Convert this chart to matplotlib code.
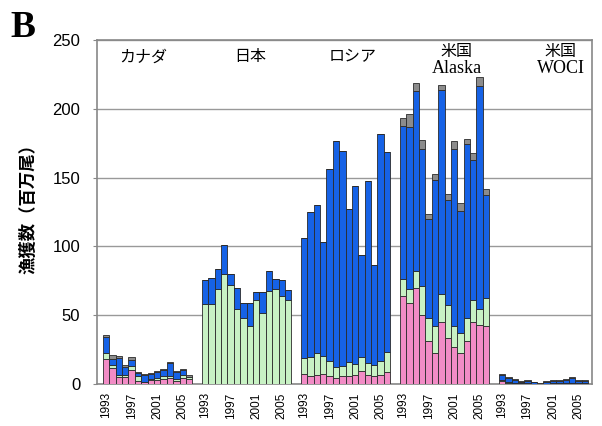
import numpy as np
import matplotlib
matplotlib.use("Agg")
from matplotlib import pyplot as plt

plt.rcParams['font.family'] = ['Noto Sans CJK JP', 'DejaVu Sans']

# catch by region, 1993-2006, millions of fish
regions = ['カナダ', '日本', 'ロシア', '米国\nAlaska', '米国\nWOCI']
years = list(range(1993, 2007))
tick_years = [1993, 1997, 2001, 2005]

# bottom to top: pink, light green, blue, gray
pink_vals = [
    [18, 11.5, 5, 5, 10.4, 2.4, 1.2, 3, 3, 3.6, 4, 2, 4.3, 3.9],
    [0] * 14,
    [7.5, 5.6, 6.8, 7.5, 6, 4.3, 5.6, 6, 6.8, 9.2, 6.8, 6, 6.8, 8.5],
    [64, 58.7, 69.6, 50.2, 30.9, 22.5, 44.7, 33.3, 26.8, 22.5, 30.9, 44.7, 43, 41.8],
    [2.5, 1, 0.5, 0.3, 0.3, 0.2, 0.1, 0.2, 0.3, 0.3, 0.3, 0.5, 0.3, 0.3],
]
green_vals = [
    [4.5, 2.5, 1.7, 1.7, 2.5, 3.6, 0.5, 0.5, 1.2, 1.9, 1.5, 1.7, 2.4, 1.2],
    [58, 58, 69.3, 80.2, 71.7, 54.3, 47.6, 42, 60.9, 51.7, 67.6, 69.3, 63.8, 60.9],
    [11.3, 14, 15.7, 13, 10.4, 8, 7.2, 9.7, 7.7, 10.1, 8.4, 8, 10.1, 14.7],
    [12.1, 10.1, 12.5, 21.1, 16.9, 19.3, 20.8, 24.2, 15, 14.9, 16.9, 16.4, 11.3, 20.5],
    [0.5, 0.3, 0.2, 0.1, 0.2, 0.1, 0, 0.1, 0.2, 0.2, 0.2, 0.3, 0.2, 0.2],
]
blue_vals = [
    [11.3, 4.5, 12, 6, 4.7, 1.7, 5, 4, 4.5, 5, 10, 5, 3.8, 0],
    [17.4, 19.3, 14.5, 20.5, 8.5, 15.5, 11.3, 16.9, 6, 15.2, 14.5, 6.7, 11.6, 7.2],
    [87, 105.5, 107.9, 82.9, 140.1, 164.3, 156.5, 111.8, 129.2, 74.4, 132.4, 72.5, 165, 145.4],
    [111.1, 118.2, 130.7, 99.7, 71.8, 106.2, 147.8, 76.1, 128.7, 88.4, 126.4, 101.5, 162.6, 74.9],
    [3.4, 3, 2.3, 1, 1.8, 0.9, 0.2, 1, 1.4, 1.8, 2.3, 3.2, 1.8, 1.5],
]
gray_vals = [
    [1.5, 2.3, 1.8, 1.3, 2, 1, 0.8, 0.5, 0.5, 0.5, 0.5, 0.5, 0.5, 1.2],
    [0] * 14,
    [0] * 14,
    [6.3, 9.4, 5.8, 6, 3.8, 4.9, 4.3, 4.8, 6.1, 5.8, 4.1, 5.3, 6.1, 4.8],
    [0.8, 0.7, 0.6, 0.5, 0.8, 0.5, 0.2, 0.6, 0.8, 0.8, 0.8, 0.8, 0.8, 0.7],
]

colors = ['#f28cc6', '#c8f2c4', '#1662e6', '#8c8c8c']
layers = [pink_vals, green_vals, blue_vals, gray_vals]

fig = plt.figure(figsize=(6.02, 4.26), dpi=100)
ax = fig.add_axes([0.161, 0.0986, 0.822, 0.8075])

group_w = 15.5
first = 1.44
xticks, xlabels = [], []
for g in range(len(regions)):
    x = g * group_w + first + np.arange(len(years))
    bottom = np.zeros(len(years))
    for vals, c in zip(layers, colors):
        v = np.array(vals[g], dtype=float)
        ax.bar(x, v, width=1.0, bottom=bottom, color=c,
               edgecolor='#2a2a2a', linewidth=0.6, zorder=3)
        bottom += v
    for ty in tick_years:
        xticks.append(g * group_w + first + years.index(ty))
        xlabels.append(str(ty))

ax.set_xlim(0, len(regions) * group_w)
ax.set_ylim(0, 250)
ax.set_yticks([0, 50, 100, 150, 200, 250])
ax.set_yticklabels(['0', '50', '100', '150', '200', '250'],
                   family='Liberation Sans', fontsize=12)
ax.set_xticks(xticks)
ax.set_xticklabels(xlabels, rotation=90, family='Liberation Sans',
                   fontsize=8.5)
ax.tick_params(axis='x', length=0, pad=6)
ax.tick_params(axis='y', length=3, pad=9, color='#888888')
ax.yaxis.grid(True, color='#999999', linewidth=1.0, zorder=0)
for s in ax.spines.values():
    s.set_color('#888888')
    s.set_linewidth(1.2)

# region labels
lab_x = [0.093, 0.309, 0.517, 0.727, 0.937]
for i, name in enumerate(regions):
    parts = name.split('\n')
    if len(parts) == 1:
        ax.text(lab_x[i], 0.951, parts[0], transform=ax.transAxes,
                ha='center', va='center', fontsize=11.5)
    else:
        ax.text(lab_x[i], 0.968, parts[0], transform=ax.transAxes,
                ha='center', va='center', fontsize=11.5)
        ax.text(lab_x[i], 0.916, parts[1], transform=ax.transAxes,
                ha='center', va='center', fontsize=13,
                family='Liberation Serif')

fig.text(0.047, 0.52, '漁獲数（百万尾）', rotation=90, ha='center',
         va='center', fontsize=12.5, fontweight='bold')
fig.text(0.018, 0.913, 'B', family='Liberation Serif', fontweight='bold',
         fontsize=27, ha='left', va='baseline')

fig.savefig('out.png', dpi=100)
